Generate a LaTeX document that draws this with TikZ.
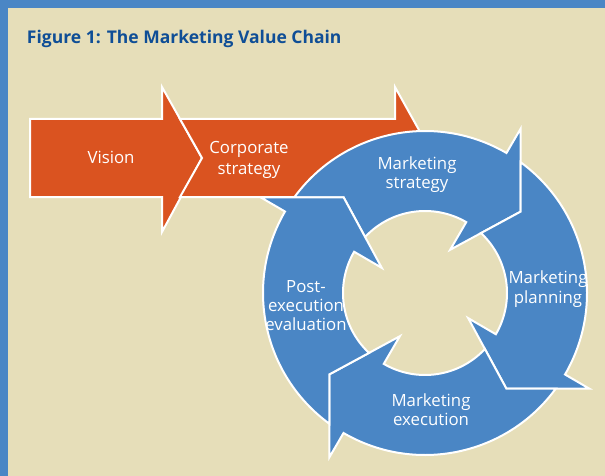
\documentclass[tikz,border=0pt]{standalone}
\usepackage{fontspec}
\setmainfont{Open Sans}
\definecolor{bg}{RGB}{230,222,185}
\definecolor{ringblue}{RGB}{74,134,197}
\definecolor{frameblue}{RGB}{74,134,197}
\definecolor{chainorange}{RGB}{218,83,32}
\definecolor{titleblue}{RGB}{15,78,150}
\begin{document}
\begin{tikzpicture}[x=1pt,y=1pt,
  every node/.style={inner sep=0pt, outer sep=0pt},
  lbl/.style={text=white, font=\fontsize{16.8}{19.3}\selectfont, align=center, anchor=base},
  chainarrow/.style={fill=chainorange, draw=white, line width=2pt, line join=miter},
  ringarrow/.style={fill=ringblue, draw=white, line width=2pt, line join=miter}]

% page, frame and title
\useasboundingbox (0,0) rectangle (605,-476);
\fill[bg] (0,0) rectangle (605,-476);
\fill[frameblue] (0,0) rectangle (8,-476);
\fill[frameblue] (0,0) rectangle (605,-8);
\node[anchor=base west, text=titleblue, font=\bfseries\fontsize{17.5}{20}\selectfont] (title) at (27,-44) {Figure 1: The Marketing Value Chain};

% orange chain: vision, then corporate strategy (its head runs under the cycle)
\draw[chainarrow] (30,-119) -- (162,-119) -- (162,-87) -- (202,-158) -- (162,-232) -- (162,-197) -- (30,-197) -- cycle;
\draw[chainarrow] (180,-119) -- (395,-119) -- (395,-87) -- (424,-139) -- (330,-197) -- (180,-197) -- (202,-158) -- cycle;

% cycle of four curved arrows, each tail notched around the previous head
\foreach \k in {0,1,2,3}{
  \pgfmathsetmacro\rot{-90*\k}
  \draw[ringarrow, shift={(425,-293)}]
    ({143.85+\rot}:162) arc[start angle={143.85+\rot}, end angle={59.8+\rot}, radius=162]
    -- ({59.8+\rot}:190) -- ({40.4+\rot}:125.5) -- ({59.8+\rot}:50) -- ({59.8+\rot}:82)
    arc[start angle={59.8+\rot}, end angle={136.94+\rot}, radius=82]
    -- ({130.4+\rot}:125.5) -- cycle;
}

% labels (anchored on the baseline of their last line)
\node[lbl] (vision) at (111,-164) {Vision};
\node[lbl, font=\fontsize{16.8}{21}\selectfont] (corp) at (249,-174.3) {Corporate\\strategy};
\node[lbl] (mstrat) at (417,-188.6) {Marketing\\strategy};
\node[lbl] (mplan) at (548,-303) {Marketing\\planning};
\node[lbl] (mexec) at (431,-425.5) {Marketing\\execution};
\node[lbl] (post) at (306,-330.8) {Post-\\execution\\evaluation};
\end{tikzpicture}
\end{document}
